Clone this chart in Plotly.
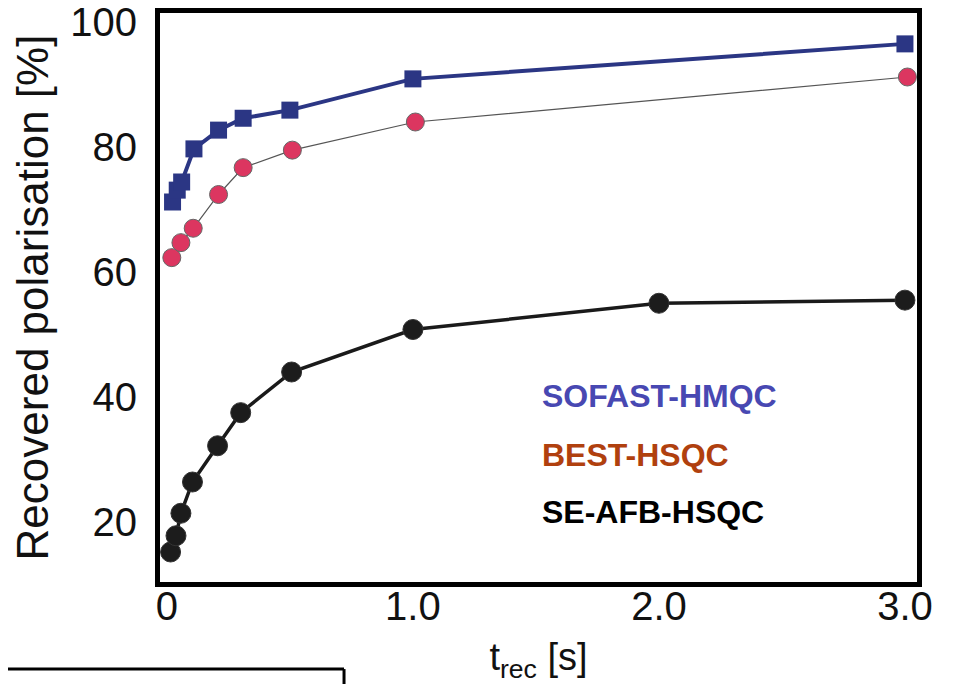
import plotly.graph_objects as go

# Data
sofast_t = [0.023, 0.042, 0.06, 0.11, 0.21, 0.31, 0.50, 1.0, 3.0]
sofast_v = [71.2, 73.1, 74.4, 79.7, 82.7, 84.6, 85.9, 90.9, 96.5]

best_t = [0.02, 0.057, 0.107, 0.21, 0.31, 0.51, 1.01, 3.01]
best_v = [62.3, 64.7, 67.0, 72.4, 76.7, 79.5, 84.0, 91.2]

seafb_t = [0.015, 0.037, 0.057, 0.104, 0.206, 0.30, 0.507, 1.0, 2.0, 3.0]
seafb_v = [15.2, 17.8, 21.4, 26.4, 32.2, 37.5, 44.0, 50.8, 55.0, 55.5]

x_tickvals = [0, 1, 2, 3]
x_ticktext = ["0", "1.0", "2.0", "3.0"]
y_tickvals = [20, 40, 60, 80, 100]

labels = ["SOFAST-HMQC", "BEST-HSQC", "SE-AFB-HSQC"]
label_colors = ["#4848b2", "#b0400e", "#000000"]

FONT = "Liberation Sans, Arial, Helvetica, sans-serif"

fig = go.Figure()
fig.add_trace(go.Scatter(
    x=seafb_t, y=seafb_v, mode="lines+markers",
    line=dict(color="#1a1a1a", width=3.5),
    marker=dict(symbol="circle", size=20, color="#1c1c1c",
                line=dict(color="#333333", width=1)),
    showlegend=False))
fig.add_trace(go.Scatter(
    x=best_t, y=best_v, mode="lines+markers",
    line=dict(color="#555555", width=1.2),
    marker=dict(symbol="circle", size=18, color="#dc3660",
                line=dict(color="#666666", width=1)),
    showlegend=False))
fig.add_trace(go.Scatter(
    x=sofast_t, y=sofast_v, mode="lines+markers",
    line=dict(color="#2b3684", width=4),
    marker=dict(symbol="square", size=17, color="#2b3684",
                line=dict(width=0)),
    showlegend=False))

ann_y = [40.2, 30.7, 21.6]
for txt, col, yy in zip(labels, label_colors, ann_y):
    fig.add_annotation(x=1.516, y=yy, xref="x", yref="y", text=txt,
                       showarrow=False, xanchor="left", yanchor="middle",
                       font=dict(family=FONT, size=32, color=col, weight="bold"))

# partial frame of a neighbouring panel (bottom-left)
fig.add_shape(type="line", xref="paper", yref="paper",
              x0=-0.25, y0=-0.153, x1=0.2431, y1=-0.153,
              line=dict(color="black", width=3))
fig.add_shape(type="line", xref="paper", yref="paper",
              x0=0.2431, y0=-0.153, x1=0.2431, y1=-0.25,
              line=dict(color="black", width=3))

fig.update_layout(
    width=956, height=684,
    margin=dict(l=152, r=47, t=5, b=110, autoexpand=False),
    paper_bgcolor="white", plot_bgcolor="white",
    font=dict(family=FONT, color="#111111"),
    xaxis=dict(range=[-0.028, 3.049], tickvals=x_tickvals, ticktext=x_ticktext,
               showgrid=False, zeroline=False, showline=True, linecolor="black",
               linewidth=5, mirror=True, ticks="", tickfont=dict(size=40),
               ticklabelstandoff=-15, automargin=False, ticklabeloverflow="allow",
               title=dict(text="t<sub>rec</sub> [s]", font=dict(size=38), standoff=18)),
    yaxis=dict(range=[10.4, 101.44], tickvals=y_tickvals,
               showgrid=False, zeroline=False, showline=True, linecolor="black",
               linewidth=5, mirror=True, ticks="", tickfont=dict(size=40),
               ticklabelstandoff=10, automargin=False, ticklabeloverflow="allow",
               title=dict(text="Recovered polarisation [%]", font=dict(size=44), standoff=10)),
)

fig.write_html("out.html")
